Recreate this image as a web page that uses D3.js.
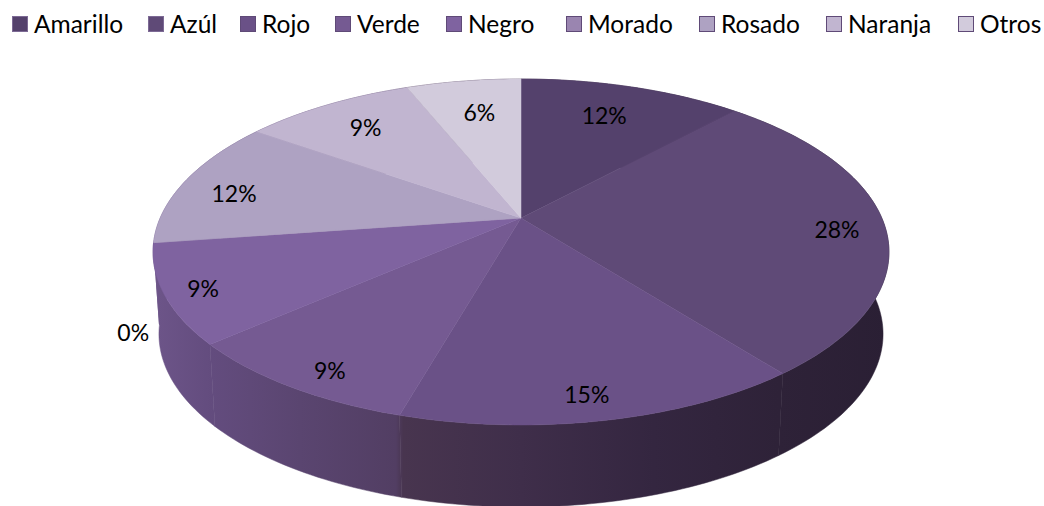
<!DOCTYPE html>
<html>
<head>
<meta charset="utf-8">
<script src="https://cdn.jsdelivr.net/npm/d3@7"></script>
<style>
body { margin: 0; background: white; }
text { font-family: Lato, "Open Sans", sans-serif; fill: #000; }
</style>
</head>
<body>
<div id="chart"></div>
<script>
var width = 1044;
var height = 506;

var categories = ["Amarillo", "Azúl", "Rojo", "Verde", "Negro", "Morado", "Rosado", "Naranja", "Otros"];
// read from the slice edges, the labels round these
var values = [11.8, 27.7, 14.9, 9.1, 9.2, 0, 12.1, 9.1, 6.1];
var colors = ["#54416c", "#5f4a77", "#6a5187", "#755a92", "#7f63a0", "#9a85b0", "#aea2c2", "#c1b5d0", "#d2cbdc"];

// hand placed labels, excel "best fit" puts them off the slice middle
var labelRadius = [0.752, 0.867, 0.889, 0.895, 0.902, 1.123, 0.834, 0.78, 0.741];
var labelTurn = [-0.8, 2.0, 1.2, -2.1, -0.7, -24.2, -2.8, 0.1, 0.7];
var legendSwatchX = [12, 148, 240, 335, 446, 566, 699, 826, 958];

// perspective of the tilted disc
var cx = 521;
var k = 0.1965;
var upperPlane = { r: 360.8, a: 166.3, y0: 218 };
var lowerPlane = { r: 355, a: 166.3, y0: 300 };

function project(plane, angle, rho) {
    var u = Math.sin(angle) * rho;
    var v = -Math.cos(angle) * rho;
    var s = 1 - k * v;
    return [cx + plane.r * u / s, plane.y0 + plane.a * v / s];
}

function arcPoints(plane, a0, a1) {
    var n = Math.max(2, Math.ceil((a1 - a0) / 0.02));
    return d3.range(n + 1).map(i => project(plane, a0 + (a1 - a0) * i / n, 1));
}

var svg = d3.select("#chart")
            .append("svg")
            .attr("width", width)
            .attr("height", height)
            .style("display", "block");

var defs = svg.append("defs");
var wallGradient = defs.append("linearGradient")
            .attr("id", "wall")
            .attr("gradientUnits", "userSpaceOnUse")
            .attr("x1", 153).attr("x2", 889)
            .attr("y1", 0).attr("y2", 0);
[[0, "#6d5589"], [0.08, "#634c7e"], [0.2, "#5a4570"], [0.33, "#523e63"], [0.34, "#48354f"], [0.5, "#3f2e4a"], [0.68, "#342640"], [0.85, "#2e2238"], [1, "#2a1f34"]]
    .forEach(d => wallGradient.append("stop").attr("offset", d[0]).attr("stop-color", d[1]));

var slices = d3.pie().sort(null).value(d => d)(values);

// walls first, the top face covers what is behind
var line = d3.line();
svg.append("g").selectAll("path")
    .data(slices)
    .join("path")
    .attr("d", d => {
        var upper = arcPoints(upperPlane, d.startAngle, d.endAngle);
        var lower = arcPoints(lowerPlane, d.startAngle, d.endAngle).reverse();
        return line(upper.concat(lower)) + "Z";
    })
    .attr("fill", "url(#wall)")
    .attr("stroke", "url(#wall)")
    .attr("stroke-width", 0.5);

svg.append("g").selectAll("path")
    .data(slices)
    .join("path")
    .attr("d", d => line([[cx, upperPlane.y0]].concat(arcPoints(upperPlane, d.startAngle, d.endAngle))) + "Z")
    .attr("fill", (d, i) => colors[i])
    .attr("stroke", (d, i) => colors[i])
    .attr("stroke-width", 0.5);

var format = d3.format(".0%");
var total = d3.sum(values);
svg.append("g").selectAll("text")
    .data(slices)
    .join("text")
    .attr("x", (d, i) => project(upperPlane, (d.startAngle + d.endAngle) / 2 + labelTurn[i] * Math.PI / 180, labelRadius[i])[0])
    .attr("y", (d, i) => project(upperPlane, (d.startAngle + d.endAngle) / 2 + labelTurn[i] * Math.PI / 180, labelRadius[i])[1])
    .attr("text-anchor", "middle")
    .attr("dominant-baseline", "central")
    .style("font-size", "23px")
    .text(d => format(d.value / total));

// legend
var legend = svg.append("g");
categories.forEach((name, i) => {
    legend.append("rect")
        .attr("x", legendSwatchX[i] + 0.5)
        .attr("y", 16.5)
        .attr("width", 15)
        .attr("height", 15)
        .attr("fill", colors[i])
        .attr("stroke", i < 2 ? "#7d6a95" : "#5f4a77")
        .attr("stroke-width", 1);
    legend.append("text")
        .attr("x", legendSwatchX[i] + 22)
        .attr("y", 32.5)
        .style("font-size", "24.5px")
        .text(name);
});
</script>
</body>
</html>
